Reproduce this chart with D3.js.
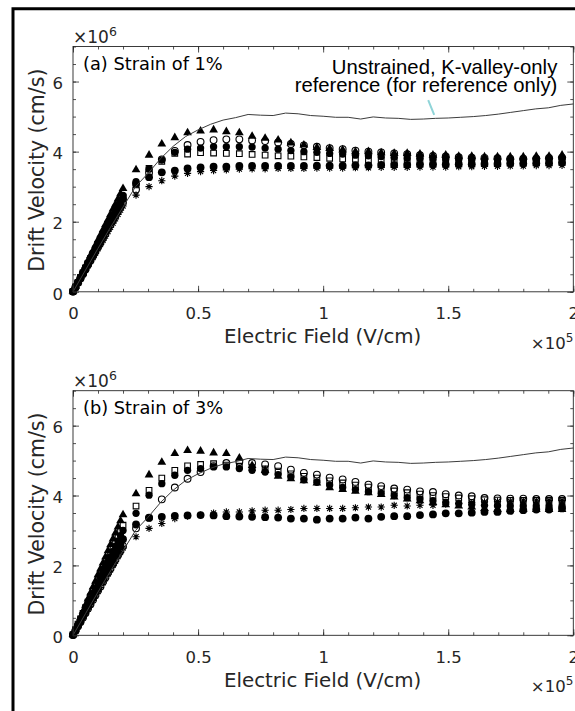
<!DOCTYPE html>
<html>
<head>
<meta charset="utf-8">
<script src="https://cdn.jsdelivr.net/npm/d3@7"></script>
<style>
  html, body { margin: 0; padding: 0; background: #fff; }
  svg { display: block; }
</style>
</head>
<body>
<svg id="fig" width="575" height="711"></svg>
<script>
// ---------------- data (field in 1e5 V/cm, velocity in 1e6 cm/s) ----------------
const fieldLow = [0,0.01,0.02,0.03,0.04,0.05,0.06,0.07,0.08,0.09,0.10,0.11,0.12,0.13,0.14,0.15,0.16,0.17,0.18,0.19,0.20];
const fieldHigh = [0.252,0.304,0.355,0.407,0.458,0.510,0.562,0.613,0.665,0.716,0.768,0.820,0.871,0.923,0.975,1.026,1.078,1.129,1.181,1.232,1.284,1.336,1.387,1.439,1.490,1.542,1.594,1.645,1.697,1.748,1.800,1.852,1.903,1.955];

// unstrained K-valley-only reference curve
const refField = [0,0.05,0.10,0.15,0.20,0.25,0.30,0.35,0.40,0.45,0.50,0.55,0.60,0.65,0.70,0.75,0.80,0.85,0.90,0.95,1.00,1.05,1.10,1.15,1.20,1.25,1.30,1.35,1.40,1.45,1.50,1.55,1.60,1.65,1.70,1.75,1.80,1.85,1.90,1.95,2.00];
const refVel = [0,0.62,1.24,1.84,2.42,3.00,3.38,3.80,4.15,4.43,4.62,4.78,4.90,4.97,5.06,5.04,5.03,5.10,5.08,5.03,5.01,4.98,4.98,4.93,4.99,4.96,4.95,4.92,4.93,4.95,4.96,4.98,5.00,5.03,5.07,5.12,5.17,5.22,5.25,5.32,5.36];

// (a) strain of 1 %
const s1StarLow   = [0,0.12,0.25,0.37,0.49,0.61,0.74,0.86,0.98,1.10,1.23,1.35,1.47,1.59,1.72,1.84,1.96,2.08,2.21,2.33,2.45];
const s1DotLow    = [0.01,0.13,0.27,0.40,0.53,0.66,0.80,0.93,1.06,1.19,1.33,1.46,1.59,1.72,1.86,1.99,2.12,2.25,2.39,2.52,2.65];
const s1DiscLow   = [0.02,0.14,0.28,0.41,0.55,0.69,0.83,0.96,1.10,1.24,1.38,1.51,1.65,1.79,1.93,2.06,2.20,2.34,2.48,2.61,2.75];
const s1SquareLow = [0.01,0.14,0.27,0.41,0.54,0.68,0.81,0.95,1.08,1.22,1.35,1.49,1.62,1.76,1.89,2.03,2.16,2.30,2.43,2.57,2.70];
const s1RingLow   = [0.01,0.13,0.26,0.38,0.51,0.64,0.77,0.89,1.02,1.15,1.28,1.40,1.53,1.66,1.79,1.91,2.04,2.17,2.30,2.42,2.55];
const s1TriLow    = [0.02,0.16,0.30,0.45,0.60,0.74,0.89,1.04,1.18,1.33,1.48,1.62,1.77,1.92,2.06,2.21,2.36,2.50,2.65,2.80,2.95];

const s1Star   = [2.76,3.00,3.17,3.30,3.38,3.43,3.46,3.48,3.50,3.51,3.51,3.52,3.52,3.52,3.53,3.53,3.53,3.54,3.54,3.55,3.55,3.55,3.56,3.56,3.56,3.57,3.57,3.58,3.58,3.59,3.59,3.60,3.60,3.61];
const s1Dot    = [3.08,3.27,3.41,3.46,3.52,3.55,3.57,3.57,3.59,3.59,3.59,3.59,3.59,3.59,3.60,3.60,3.60,3.61,3.61,3.62,3.62,3.62,3.63,3.63,3.63,3.64,3.64,3.65,3.65,3.66,3.66,3.67,3.67,3.68];
const s1Disc   = [3.14,3.50,3.76,3.98,4.07,4.10,4.14,4.14,4.14,4.13,4.10,4.07,4.03,4.00,3.98,3.95,3.93,3.90,3.88,3.86,3.84,3.82,3.81,3.80,3.79,3.78,3.77,3.76,3.76,3.76,3.77,3.78,3.79,3.80];
const s1Square = [3.05,3.52,3.72,3.95,3.93,3.97,3.96,3.95,3.94,3.92,3.90,3.88,3.87,3.85,3.83,3.81,3.79,3.78,3.76,3.75,3.74,3.73,3.72,3.71,3.70,3.70,3.70,3.70,3.70,3.70,3.70,3.71,3.72,3.72];
const s1Ring   = [2.92,3.40,3.78,4.02,4.19,4.28,4.33,4.35,4.35,4.32,4.30,4.26,4.22,4.18,4.14,4.10,4.07,4.03,4.00,3.98,3.95,3.93,3.90,3.88,3.86,3.84,3.83,3.82,3.81,3.80,3.80,3.80,3.82,3.83];
const s1Tri    = [3.48,3.90,4.22,4.40,4.54,4.59,4.62,4.57,4.54,4.44,4.38,4.33,4.25,4.19,4.12,4.09,4.05,4.00,4.00,3.97,3.95,3.95,3.93,3.90,3.90,3.87,3.87,3.85,3.85,3.85,3.85,3.87,3.87,3.90];

// (b) strain of 3 %
const s3StarLow   = [0,0.12,0.25,0.37,0.50,0.62,0.75,0.87,1.00,1.12,1.25,1.37,1.50,1.62,1.75,1.87,2.00,2.12,2.25,2.37,2.50];
const s3DotLow    = [0.01,0.14,0.28,0.41,0.55,0.69,0.83,0.96,1.10,1.24,1.38,1.51,1.65,1.79,1.93,2.06,2.20,2.34,2.48,2.61,2.75];
const s3DiscLow   = [0.02,0.15,0.30,0.45,0.60,0.75,0.90,1.05,1.20,1.35,1.50,1.65,1.80,1.95,2.10,2.25,2.40,2.55,2.70,2.85,3.00];
const s3SquareLow = [0.02,0.16,0.32,0.47,0.63,0.79,0.95,1.10,1.26,1.42,1.58,1.73,1.89,2.05,2.21,2.36,2.52,2.68,2.84,2.99,3.15];
const s3RingLow   = [0.01,0.13,0.26,0.38,0.51,0.64,0.77,0.89,1.02,1.15,1.28,1.40,1.53,1.66,1.79,1.91,2.04,2.17,2.30,2.42,2.55];
const s3TriLow    = [0.02,0.18,0.35,0.52,0.69,0.86,1.04,1.21,1.38,1.55,1.73,1.90,2.07,2.24,2.42,2.59,2.76,2.93,3.10,3.28,3.45];

const s3Star   = [2.82,3.06,3.20,3.34,3.41,3.44,3.50,3.53,3.53,3.56,3.58,3.58,3.60,3.63,3.63,3.63,3.63,3.65,3.67,3.67,3.72,3.70,3.72,3.72,3.75,3.77,3.80,3.82,3.83,3.84,3.85,3.85,3.86,3.86];
const s3Dot    = [3.17,3.37,3.39,3.42,3.43,3.44,3.43,3.41,3.40,3.39,3.38,3.37,3.34,3.34,3.31,3.34,3.34,3.37,3.34,3.39,3.41,3.41,3.44,3.46,3.49,3.49,3.51,3.53,3.53,3.56,3.58,3.60,3.60,3.63];
const s3Disc   = [3.49,4.01,4.34,4.58,4.72,4.77,4.82,4.82,4.77,4.72,4.67,4.60,4.53,4.45,4.38,4.30,4.23,4.17,4.11,4.06,4.00,3.94,3.90,3.85,3.80,3.77,3.74,3.72,3.71,3.70,3.70,3.70,3.70,3.70];
const s3Square = [3.70,4.15,4.50,4.72,4.85,4.89,4.91,4.87,4.84,4.80,4.76,4.70,4.62,4.55,4.50,4.42,4.36,4.30,4.24,4.19,4.13,4.08,4.04,4.00,3.97,3.93,3.91,3.88,3.87,3.86,3.86,3.86,3.86,3.86];
const s3Ring   = [3.06,3.36,3.89,4.23,4.48,4.67,4.84,4.93,4.97,4.93,4.89,4.84,4.74,4.65,4.60,4.51,4.46,4.39,4.31,4.27,4.20,4.17,4.12,4.10,4.04,4.00,3.98,3.93,3.92,3.91,3.91,3.90,3.90,3.90];
const s3Tri    = [4.05,4.59,4.95,5.20,5.29,5.27,5.22,5.20,5.07,4.86,4.72,4.55,4.48,4.42,4.36,4.22,4.17,4.12,4.08,4.03,3.96,3.90,3.85,3.80,3.74,3.70,3.67,3.63,3.60,3.60,3.60,3.60,3.60,3.60];

// axis ticks
const xTickValues = [0, 0.5, 1, 1.5, 2];
const xTickLabels = ["0", "0.5", "1", "1.5", "2"];
const yTickValues = [0, 2, 4, 6];
const yTickLabels = ["0", "2", "4", "6"];

const panelTitles = ["(a) Strain of 1%", "(b) Strain of 3%"];
const xLabel = "Electric Field (V/cm)";
const yLabel = "Drift Velocity (cm/s)";
const noteLines = ["Unstrained, K-valley-only", "reference (for reference only)"];

// ---------------- layout ----------------
const AX = "#262626";
const FONT = "'DejaVu Sans', sans-serif";
const svg = d3.select("#fig");

// frame around the whole figure
svg.append("path")
  .attr("d", "M13,720 V8.7 H590")
  .attr("fill", "none").attr("stroke", "#000").attr("stroke-width", 3);

const panels = [
  { top: 46.5, bottom: 291.8, title: panelTitles[0], note: true,
    series: [
      { kind: "star",   low: s1StarLow,   high: s1Star },
      { kind: "dot",    low: s1DotLow,    high: s1Dot },
      { kind: "disc",   low: s1DiscLow,   high: s1Disc },
      { kind: "square", low: s1SquareLow, high: s1Square },
      { kind: "ring",   low: s1RingLow,   high: s1Ring },
      { kind: "tri",    low: s1TriLow,    high: s1Tri }
    ] },
  { top: 390.7, bottom: 635.3, title: panelTitles[1], note: false,
    series: [
      { kind: "star",   low: s3StarLow,   high: s3Star },
      { kind: "dot",    low: s3DotLow,    high: s3Dot },
      { kind: "disc",   low: s3DiscLow,   high: s3Disc },
      { kind: "square", low: s3SquareLow, high: s3Square },
      { kind: "ring",   low: s3RingLow,   high: s3Ring },
      { kind: "tri",    low: s3TriLow,    high: s3Tri }
    ] }
];

const x = d3.scaleLinear().domain([0, 2]).range([73, 573.3]);

// eight-armed asterisk marker
const asterisk = {
  draw(ctx, size) {
    const r = Math.sqrt(size) / 2;
    const d = r * Math.SQRT1_2;
    ctx.moveTo(-r, 0); ctx.lineTo(r, 0);
    ctx.moveTo(0, -r); ctx.lineTo(0, r);
    ctx.moveTo(-d, -d); ctx.lineTo(d, d);
    ctx.moveTo(-d, d); ctx.lineTo(d, -d);
  }
};

const markerStyle = {
  star:   { type: asterisk,          size: 52, fill: "none", stroke: "#000", sw: 1.1 },
  dot:    { type: d3.symbolCircle,   size: 48, fill: "#000", stroke: "none", sw: 0 },
  disc:   { type: d3.symbolCircle,   size: 42, fill: "#000", stroke: "none", sw: 0 },
  square: { type: d3.symbolSquare,   size: 32, fill: "none", stroke: "#000", sw: 1.1 },
  ring:   { type: d3.symbolCircle,   size: 36, fill: "none", stroke: "#000", sw: 1.1 },
  tri:    { type: d3.symbolTriangle, size: 33, fill: "#000", stroke: "none", sw: 0 }
};

panels.forEach(p => {
  const y = d3.scaleLinear().domain([0, 7]).range([p.bottom, p.top]);
  const g = svg.append("g");

  // markers
  p.series.forEach(s => {
    const st = markerStyle[s.kind];
    const pts = fieldLow.map((f, i) => [f, s.low[i]])
      .concat(fieldHigh.map((f, i) => [f, s.high[i]]));
    const sym = d3.symbol().type(st.type).size(st.size);
    g.append("g").selectAll("path").data(pts).join("path")
      .attr("transform", d => `translate(${x(d[0])},${y(d[1])})`)
      .attr("d", sym)
      .attr("fill", st.fill)
      .attr("stroke", st.stroke)
      .attr("stroke-width", st.sw);
  });

  // reference curve
  g.append("path")
    .datum(refField.map((f, i) => [f, refVel[i]]))
    .attr("d", d3.line().x(d => x(d[0])).y(d => y(d[1])))
    .attr("fill", "none").attr("stroke", "#3c3c3c").attr("stroke-width", 1);

  // axes (ticks point inward, mirrored on all four sides)
  const minorX = d3.range(0, 2.0001, 0.1);
  const minorY = d3.range(0, 7.0001, 0.5);
  const axes = [
    [d3.axisBottom(x), p.bottom, true],
    [d3.axisTop(x), p.top, false]
  ];
  axes.forEach(([ax, ty, labels]) => {
    g.append("g").attr("transform", `translate(0,${ty})`)
      .call(ax.tickValues(minorX).tickSizeInner(-3).tickSizeOuter(0).tickFormat(""))
      .call(a => a.select(".domain").remove());
    const gm = g.append("g").attr("transform", `translate(0,${ty})`)
      .call(ax.tickValues(xTickValues).tickSizeInner(-6).tickSizeOuter(0).tickPadding(15.5)
        .tickFormat(labels ? (d, i) => xTickLabels[i] : ""))
      .call(a => a.select(".domain").remove());
    gm.selectAll("text").attr("font-family", FONT).attr("font-size", 16.5).attr("fill", AX);
  });
  [[d3.axisLeft(y), x.range()[0], true], [d3.axisRight(y), x.range()[1], false]].forEach(([ax, tx, labels]) => {
    g.append("g").attr("transform", `translate(${tx},0)`)
      .call(ax.tickValues(minorY).tickSizeInner(-3).tickSizeOuter(0).tickFormat(""))
      .call(a => a.select(".domain").remove());
    const gm = g.append("g").attr("transform", `translate(${tx},0)`)
      .call(ax.tickValues(yTickValues).tickSizeInner(-6).tickSizeOuter(0).tickPadding(10)
        .tickFormat(labels ? (d, i) => yTickLabels[i] : ""))
      .call(a => a.select(".domain").remove());
    gm.selectAll("text").attr("font-family", FONT).attr("font-size", 16.5).attr("fill", AX).attr("dy", "0.44em");
  });
  svg.selectAll(".tick line").attr("stroke", AX).attr("stroke-width", 0.8);

  // axes box
  g.append("rect")
    .attr("x", x.range()[0]).attr("y", p.top)
    .attr("width", x.range()[1] - x.range()[0]).attr("height", p.bottom - p.top)
    .attr("fill", "none").attr("stroke", AX).attr("stroke-width", 0.9);

  // exponent labels
  const e6 = g.append("text").attr("x", x.range()[0]).attr("y", p.top - 3.5)
    .attr("font-family", FONT).attr("font-size", 17).attr("fill", AX);
  e6.append("tspan").text("\u00d710");
  e6.append("tspan").attr("font-size", 12.5).attr("dy", -7).text("6");

  const e5 = g.append("text").attr("x", x.range()[1]).attr("y", p.bottom + 57)
    .attr("text-anchor", "end")
    .attr("font-family", FONT).attr("font-size", 16.5).attr("fill", AX);
  e5.append("tspan").text("\u00d710");
  e5.append("tspan").attr("font-size", 12).attr("dy", -7).text("5");

  // axis titles
  g.append("text")
    .attr("x", (x.range()[0] + x.range()[1]) / 2 - 0.5).attr("y", p.bottom + 51.5)
    .attr("text-anchor", "middle")
    .attr("font-family", FONT).attr("font-size", 19.8).attr("fill", AX)
    .text(xLabel);
  g.append("text")
    .attr("transform", `translate(43.5,${(p.top + p.bottom) / 2 + 1}) rotate(-90)`)
    .attr("text-anchor", "middle")
    .attr("font-family", FONT).attr("font-size", 20.5).attr("fill", AX)
    .text(yLabel);

  // panel title
  g.append("text")
    .attr("x", x.range()[0] + 10).attr("y", p.top + 23.5)
    .attr("font-family", FONT).attr("font-size", 17.8).attr("fill", "#000")
    .text(p.title);

  // callout for the reference curve
  if (p.note) {
    g.append("line")
      .attr("x1", x(1.42)).attr("y1", y(5.47))
      .attr("x2", x(1.444)).attr("y2", y(5.05))
      .attr("stroke", "#8fd4d8").attr("stroke-width", 2);
    const t = g.append("text")
      .attr("text-anchor", "end")
      .attr("font-family", "'Liberation Sans', Arial, sans-serif")
      .attr("font-size", 20.3).attr("fill", "#000");
    t.append("tspan").attr("x", x(1.936)).attr("y", p.top + 27).text(noteLines[0]);
    t.append("tspan").attr("x", x(1.936)).attr("y", p.top + 45).text(noteLines[1]);
  }
});
</script>
</body>
</html>
